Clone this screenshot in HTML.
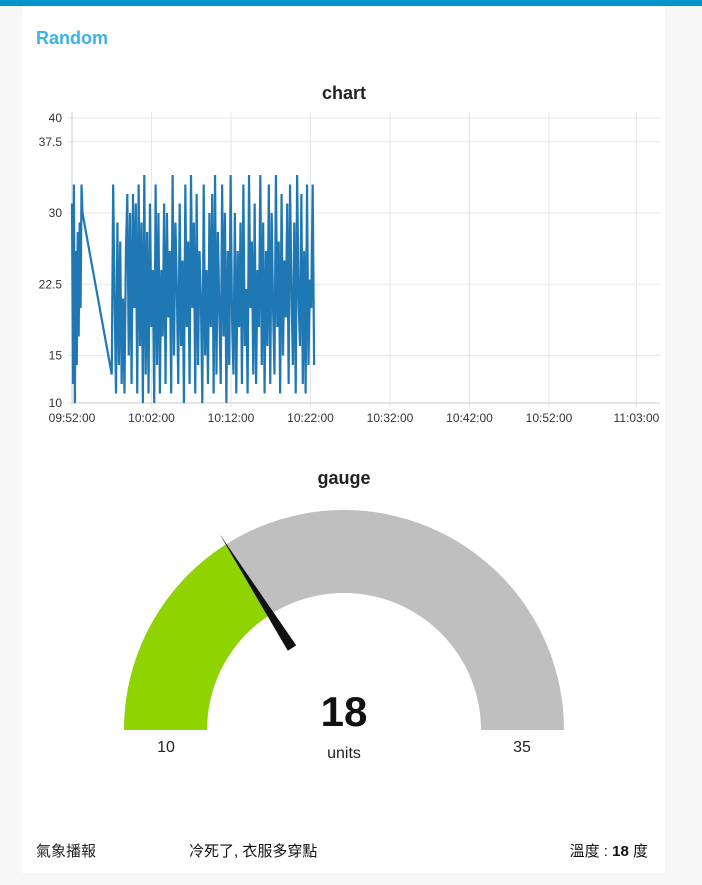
<!DOCTYPE html>
<html><head><meta charset="utf-8"><style>
body{margin:0;width:702px;height:885px;background:#f7f7f7;font-family:"Liberation Sans","Noto Sans CJK TC",sans-serif;overflow:hidden;position:relative}
.top{position:absolute;left:0;top:0;width:702px;height:6px;background:#0094ce}
.card{position:absolute;left:22px;top:6px;width:643px;height:867px;background:#fff}
.t{position:absolute;white-space:nowrap}
</style></head><body>
<div class="top"></div>
<div class="card"></div>
<div class="t" style="left:36px;top:28px;font-size:18px;font-weight:bold;color:#3bb3e8">Random</div>
<svg id="svg" width="702" height="885" style="position:absolute;left:0;top:0"></svg>
<div class="t" style="left:36px;top:840px;font-size:15px;color:#222">氣象播報</div>
<div class="t" style="left:189px;top:840px;font-size:15px;color:#111">冷死了, 衣服多穿點</div>
<div class="t" style="right:54px;top:840px;font-size:15px;color:#111">溫度 : <b>18</b> 度</div>
<script>
const yTicks=[10,15,22.5,30,37.5,40];
const xTickLabels=["09:52:00","10:02:00","10:12:00","10:22:00","10:32:00","10:42:00","10:52:00","11:03:00"];
const xTickMinutes=[0,10,20,30,40,50,60,71];
const seg1Start=0, seg1Step=0.12;
const seg1Values=[31,12,33,10,26,14,28,17,29,20,33,30];
const seg2Start=5.0, seg2Step=0.178;
const seg2Values=[13,33,21,11,29,14,27,12,21,11,26,32,15,30,12,32,20,31,11,33,16,29,10,34,13,28,11,31,18,24,10,33,14,30,11,24,17,31,12,30,19,26,11,34,15,29,22,12,31,16,25,10,33,18,27,12,34,20,29,11,32,14,26,21,10,33,15,24,12,30,18,32,11,34,13,28,20,12,33,17,30,10,26,14,34,19,13,30,11,26,18,29,12,33,16,22,11,34,20,27,13,31,12,24,18,34,14,29,11,26,16,33,12,30,20,13,34,18,27,11,32,15,25,19,31,12,33,22,14,29,11,34,21,16,32,12,26,11,33,14,23,20,33,14];
const gaugeMin=10, gaugeMax=35, gaugeValue=18;

const svg=document.getElementById('svg');const NS='http://www.w3.org/2000/svg';
function mk(tag,attrs,name,parent){const e=document.createElementNS(NS,tag);for(const k in attrs)e.setAttribute(k,attrs[k]);


(parent||svg).appendChild(e);return e;}
const X0=72,X1=660,Y0=403,Y1=118;
const xs=m=>X0+m*7.95;
const ys=v=>Y0-(v-10)*(Y0-Y1)/30;
mk('text',{x:344,y:99,'text-anchor':'middle','font-size':18,'font-weight':'bold',fill:'#222'},'chart-title').textContent='chart';
yTicks.forEach(v=>{mk('line',{x1:X0-4,x2:X1,y1:ys(v),y2:ys(v),stroke:'#e6e6e6'},'y-gridline');
const t=mk('text',{x:62,y:ys(v)+4,'text-anchor':'end','font-size':12,fill:'#333'},'y-tick-label');t.textContent=v;});
xTickMinutes.forEach((m,i)=>{mk('line',{x1:xs(m),x2:xs(m),y1:Y1-6,y2:Y0+4,stroke:'#e6e6e6'},'x-gridline');
const t=mk('text',{x:xs(m),y:Y0+19,'text-anchor':'middle','font-size':12,fill:'#333'},'x-tick-label');t.textContent=xTickLabels[i];});
mk('line',{x1:X0,x2:X0,y1:Y1-6,y2:Y0,stroke:'#ccc'},'y-axis');
mk('line',{x1:X0,x2:X1,y1:Y0,y2:Y0,stroke:'#ccc'},'x-axis');
let pts=[];
seg1Values.forEach((v,i)=>pts.push([xs(seg1Start+i*seg1Step),ys(v)]));
seg2Values.forEach((v,i)=>pts.push([xs(seg2Start+i*seg2Step),ys(v)]));
mk('polyline',{points:pts.map(p=>p.join(',')).join(' '),fill:'none',stroke:'#1f77b4','stroke-width':2.2},'series-line');
const cx=344,cy=730,R=220,r=137;
mk('text',{x:cx,y:484,'text-anchor':'middle','font-size':18,'font-weight':'bold',fill:'#222'},'gauge-title').textContent='gauge';
function arc(a0,a1,col,name){
const P=(a,rr)=>[cx-rr*Math.cos(a),cy-rr*Math.sin(a)];
const A=P(a0,R),B=P(a1,R),C=P(a1,r),D=P(a0,r);
mk('path',{d:`M${A} A${R},${R} 0 0 1 ${B} L${C} A${r},${r} 0 0 0 ${D}Z`,fill:col},name);}
const ang=v=>(v-gaugeMin)/(gaugeMax-gaugeMin)*Math.PI;
arc(0,Math.PI,'#bfbfbf','gauge-background');
arc(0,ang(gaugeValue),'#8fd400','gauge-value-arc');
const a=ang(gaugeValue),ux=-Math.cos(a),uy=-Math.sin(a),px=-uy,py=ux;
const tip=[cx+ux*232,cy+uy*232],b=[cx+ux*97,cy+uy*97];
mk('polygon',{points:`${tip} ${b[0]+px*5},${b[1]+py*5} ${b[0]-px*5},${b[1]-py*5}`,fill:'#111'},'gauge-needle');
mk('text',{x:cx,y:726,'text-anchor':'middle','font-size':42,'font-weight':'bold',fill:'#111'},'gauge-value').textContent=gaugeValue;
mk('text',{x:cx,y:758,'text-anchor':'middle','font-size':16,fill:'#222'},'gauge-units').textContent='units';
mk('text',{x:166,y:752,'text-anchor':'middle','font-size':16,fill:'#222'},'gauge-min-label').textContent=gaugeMin;
mk('text',{x:522,y:752,'text-anchor':'middle','font-size':16,fill:'#222'},'gauge-max-label').textContent=gaugeMax;
</script>
</body></html>
